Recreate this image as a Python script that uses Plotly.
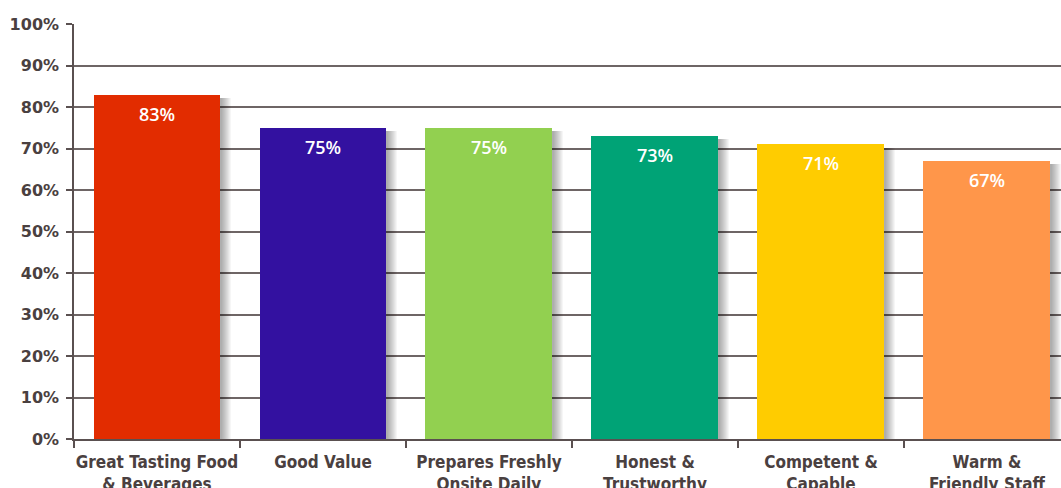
import plotly.graph_objects as go

categories = ["Great Tasting Food<br>& Beverages", "Good Value", "Prepares Freshly<br>Onsite Daily",
              "Honest &<br>Trustworthy", "Competent &<br>Capable", "Warm &<br>Friendly Staff"]
values = [83, 75, 75, 73, 71, 67]
colors = ["#E22C00", "#3311A0", "#92D050", "#00A376", "#FFCC00", "#FF964A"]
y_ticks = [0, 10, 20, 30, 40, 50, 60, 70, 80, 90, 100]
y_tick_labels = [f"{v}%" for v in y_ticks]

W = 0.765
px = 1 / 166.0

fig = go.Figure()
# soft drop shadow layers
for k in range(2, 12):
    fig.add_trace(go.Bar(
        x=categories, y=[v - 0.8 for v in values],
        width=W, offset=-W / 2 + k * px,
        marker=dict(color="rgba(0,0,0,0.035)", line=dict(width=0)),
        hoverinfo="skip", showlegend=False))

fig.add_trace(go.Bar(
    x=categories, y=values, width=W, offset=-W / 2,
    marker=dict(color=colors, line=dict(width=0)),
    showlegend=False))

for c, v in zip(categories, values):
    fig.add_annotation(x=c, y=v, text=f"{v}%", showarrow=False, yshift=-19,
                       font=dict(family="Open Sans", size=18, color="white", weight=600))

fig.update_layout(
    width=1061, height=488,
    margin=dict(l=74, r=0, t=24, b=49),
    barmode="overlay",
    plot_bgcolor="white", paper_bgcolor="white",
    bargap=0,
)
fig.update_yaxes(
    range=[0, 100], tickvals=y_ticks, ticktext=y_tick_labels,
    showgrid=True, gridcolor="#6e6565", gridwidth=1.5,
    showline=True, linecolor="#5a5050", linewidth=1.5,
    ticks="outside", ticklen=6, tickcolor="#5a5050", tickwidth=1.5,
    tickfont=dict(family="DejaVu Sans", size=16, color="#4a4040", weight="bold"),
    zeroline=False, ticklabelstandoff=4, automargin=False,
)
fig.update_xaxes(
    type="category", range=[-0.5, 5.446], tickangle=0,
    showline=True, linecolor="#5a5050", linewidth=1.5,
    ticks="outside", tickson="boundaries", ticklen=7, tickcolor="#5a5050", tickwidth=1.5,
    tickfont=dict(family="DejaVu Sans Condensed, Roboto", size=17, color="#4a4040", weight="bold"),
    showgrid=False, ticklabelstandoff=7, automargin=False,
)

fig.write_html("out.html")
